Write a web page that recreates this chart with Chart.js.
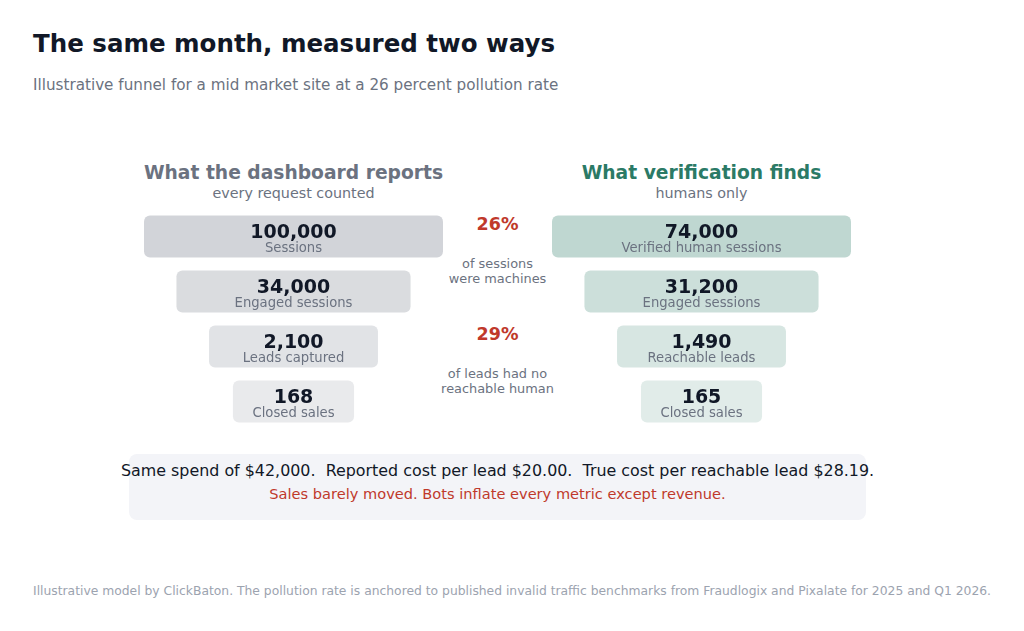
<!DOCTYPE html>
<html>
<head>
<meta charset="utf-8">
<script src="https://cdn.jsdelivr.net/npm/chart.js@4/dist/chart.umd.min.js"></script>
<style>
  body { margin: 0; background: #fff; font-family: "DejaVu Sans", sans-serif; }
  #page { position: relative; width: 1024px; height: 631px; overflow: hidden; }
  .t { position: absolute; white-space: nowrap; }
  .c { transform: translateX(-50%); text-align: center; }
  canvas { position: absolute; }
</style>
</head>
<body>
<div id="page">
  <div class="t" style="left:33px;top:29px;font-size:24.5px;line-height:30px;font-weight:bold;color:#111827">The same month, measured two ways</div>
  <div class="t" style="left:33px;top:75px;font-size:15.2px;line-height:20px;color:#6b7280">Illustrative funnel for a mid market site at a 26 percent pollution rate</div>

  <div class="t c" style="left:293.5px;top:161px;font-size:18.7px;line-height:24px;font-weight:bold;color:#6b7280">What the dashboard reports</div>
  <div class="t c" style="left:293.5px;top:184px;font-size:14.3px;line-height:18px;color:#6b7280">every request counted</div>
  <div class="t c" style="left:701.5px;top:161px;font-size:18.7px;line-height:24px;font-weight:bold;color:#2b7a66">What verification finds</div>
  <div class="t c" style="left:701.5px;top:184px;font-size:14.3px;line-height:18px;color:#6b7280">humans only</div>

  <div id="gap1" class="t c" style="left:497.5px;top:213px;font-size:17.5px;line-height:22px;font-weight:bold;color:#c0392b"></div>
  <div class="t c" style="left:497.5px;top:256px;font-size:12.9px;line-height:15px;color:#6b7280">of sessions<br>were machines</div>
  <div id="gap2" class="t c" style="left:497.5px;top:323px;font-size:17.5px;line-height:22px;font-weight:bold;color:#c0392b"></div>
  <div class="t c" style="left:497.5px;top:366px;font-size:12.9px;line-height:15px;color:#6b7280">of leads had no<br>reachable human</div>

  <div style="position:absolute;left:129px;top:454px;width:737px;height:66px;background:#f3f4f8;border-radius:8px"></div>
  <div id="sum1" class="t c" style="left:497.5px;top:461px;font-size:15.9px;line-height:20px;color:#111827"></div>
  <div class="t c" style="left:497.5px;top:484px;font-size:14.6px;line-height:20px;color:#c0392b">Sales barely moved. Bots inflate every metric except revenue.</div>

  <div class="t" style="left:33px;top:583px;font-size:12.33px;line-height:16px;color:#9ca3af">Illustrative model by ClickBaton. The pollution rate is anchored to published invalid traffic benchmarks from Fraudlogix and Pixalate for 2025 and Q1 2026.</div>

  <canvas id="left" width="299" height="220" style="left:144px;top:209px"></canvas>
  <canvas id="right" width="299" height="220" style="left:552px;top:209px"></canvas>
</div>

<script>
// funnel data
const stages = ['Sessions', 'Engaged', 'Leads', 'Sales'];
const reportedLabels = ['Sessions', 'Engaged sessions', 'Leads captured', 'Closed sales'];
const reportedValues = [100000, 34000, 2100, 168];
const verifiedLabels = ['Verified human sessions', 'Engaged sessions', 'Reachable leads', 'Closed sales'];
const verifiedValues = [74000, 31200, 1490, 165];
const monthlySpend = 42000;

// layout: relative width of each funnel step (same shape both sides)
const funnelShape = [1, 0.783, 0.565, 0.405];

const fmt = n => n.toLocaleString('en-US');

document.getElementById('gap1').textContent =
    Math.round((1 - verifiedValues[0] / reportedValues[0]) * 100) + '%';
document.getElementById('gap2').textContent =
    Math.round((1 - verifiedValues[2] / reportedValues[2]) * 100) + '%';
document.getElementById('sum1').textContent =
    'Same spend of $' + fmt(monthlySpend) + '.\u00a0 Reported cost per lead $' +
    (monthlySpend / reportedValues[2]).toFixed(2) + '.\u00a0 True cost per reachable lead $' +
    (monthlySpend / verifiedValues[2]).toFixed(2) + '.';

// writes the number and the step name inside each bar
const barText = {
    id: 'barText',
    afterDatasetsDraw(chart) {
        const ctx = chart.ctx;
        const opts = chart.options.plugins.barText;
        chart.getDatasetMeta(0).data.forEach(function(bar, i) {
            const cx = (bar.x + bar.base) / 2;
            ctx.save();
            ctx.textAlign = 'center';
            ctx.textBaseline = 'middle';
            ctx.fillStyle = '#111827';
            ctx.font = 'bold 19px "DejaVu Sans"';
            ctx.fillText(fmt(opts.values[i]), cx, bar.y - 3.5);
            ctx.fillStyle = '#6b7280';
            ctx.font = '13.2px "DejaVu Sans"';
            ctx.fillText(opts.labels[i], cx, bar.y + 12);
            ctx.restore();
        });
    }
};

function funnel(id, values, labels, colors) {
    return new Chart(document.getElementById(id), {
        type: 'bar',
        data: {
            labels: stages,
            datasets: [{
                data: funnelShape.map(w => [-w / 2, w / 2]),
                backgroundColor: colors,
                borderRadius: 6,
                borderSkipped: false,
                barPercentage: 1,
                categoryPercentage: 42 / 55
            }]
        },
        options: {
            indexAxis: 'y',
            responsive: false,
            animation: false,
            layout: { padding: 0 },
            scales: {
                x: { display: false, min: -0.5, max: 0.5 },
                y: { display: false }
            },
            plugins: {
                legend: { display: false },
                tooltip: { enabled: false },
                barText: { values: values, labels: labels }
            }
        },
        plugins: [barText]
    });
}

funnel('left', reportedValues, reportedLabels,
    ['rgba(107,114,128,0.30)', 'rgba(107,114,128,0.25)', 'rgba(107,114,128,0.20)', 'rgba(107,114,128,0.15)']);
funnel('right', verifiedValues, verifiedLabels,
    ['rgba(43,122,102,0.30)', 'rgba(43,122,102,0.24)', 'rgba(43,122,102,0.19)', 'rgba(43,122,102,0.14)']);
</script>
</body>
</html>
